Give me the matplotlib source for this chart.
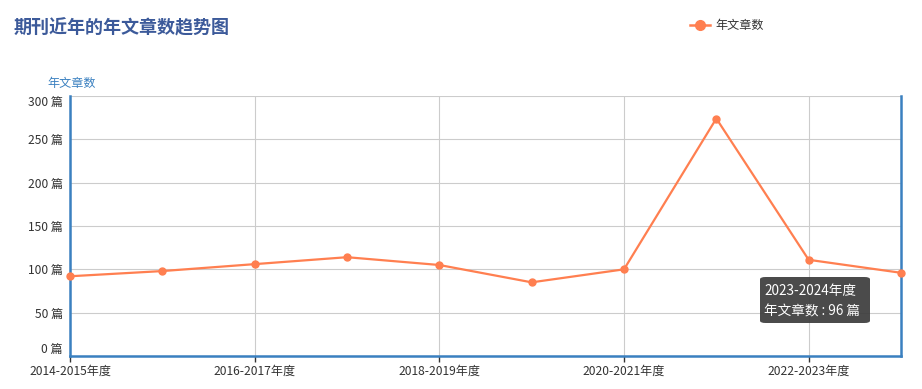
import matplotlib
matplotlib.use("Agg")
import matplotlib.pyplot as plt
from matplotlib.patches import FancyBboxPatch

plt.rcParams["font.family"] = ["Noto Sans CJK SC", "DejaVu Sans"]

# data
years = ["2014-2015年度", "2015-2016年度", "2016-2017年度", "2017-2018年度",
         "2018-2019年度", "2019-2020年度", "2020-2021年度", "2021-2022年度",
         "2022-2023年度", "2023-2024年度"]
counts = [92, 98, 106, 114, 105, 85, 100, 274, 111, 96]
y_ticks = [0, 50, 100, 150, 200, 250, 300]

title = "期刊近年的年文章数趋势图"
series_name = "年文章数"
unit = "篇"

line_color = "#ff7f50"
axis_color = "#3a80c0"
W, H = 922, 389

fig = plt.figure(figsize=(W / 100, H / 100), dpi=100)
ax = fig.add_axes([70 / W, 33 / H, 831 / W, 260 / H])

x = list(range(len(years)))
ax.plot(x, counts, color=line_color, linewidth=1.6, marker="o",
        markersize=5, zorder=3, clip_on=False)
ax.set_xlim(0, len(years) - 1)
ax.set_ylim(0, 300)

ax.set_yticks(y_ticks)
ax.set_yticklabels([f"{v} {unit}" for v in y_ticks])
ax.set_xticks(x[::2])
ax.set_xticklabels(years[::2])
ax.tick_params(axis="y", length=0, pad=5, labelsize=8.7, labelcolor="#333333")
ax.tick_params(axis="x", length=4, width=1, color="#333333", pad=2,
               labelsize=8.7, labelcolor="#333333")
# first/last y labels are pulled inside the axis like in the original
ylabels = ax.get_yticklabels()
ylabels[0].set_va("bottom")
ylabels[-1].set_va("top")

ax.grid(True, color="#cccccc", linewidth=0.8)
ax.set_axisbelow(True)
ax.spines["top"].set_visible(False)
for side in ("left", "bottom", "right"):
    ax.spines[side].set_color(axis_color)
    ax.spines[side].set_linewidth(1.8)

fig.text(14 / W, 1 - 28 / H, title, fontsize=13, fontweight="bold",
         color="#3c5a9a", va="center", ha="left")
fig.text(47 / W, 1 - 83 / H, series_name, fontsize=8.7, color=axis_color,
         va="center", ha="left")

# legend: dash - dot - dash, then the name
lx, ly = 690 / W, 1 - 25 / H
for x0, x1 in ((lx, lx + 6 / W), (lx + 14 / W, lx + 20 / W)):
    fig.lines.append(plt.Line2D([x0, x1], [ly, ly], color=line_color,
                                linewidth=1.8, transform=fig.transFigure))
fig.lines.append(plt.Line2D([lx + 10 / W], [ly], color=line_color, marker="o",
                            markersize=7, transform=fig.transFigure))
fig.text(lx + 25 / W, ly, series_name, fontsize=8.7, color="#333333",
         va="center", ha="left")

# tooltip on the last point
bx, by, bw, bh = 760 / W, 1 - 323 / H, 110 / W, 46 / H
box = FancyBboxPatch((bx, by), bw, bh, boxstyle="round,pad=0,rounding_size=0.006",
                     transform=fig.transFigure, facecolor="#3c3c3c", alpha=0.92,
                     edgecolor="none", zorder=10)
fig.patches.append(box)
fig.text(bx + 4 / W, 1 - 291 / H, years[-1], fontsize=9.8, color="white",
         va="center", ha="left", zorder=11)
fig.text(bx + 4 / W, 1 - 311 / H, f"{series_name} : {counts[-1]} {unit}",
         fontsize=9.8, color="white", va="center", ha="left", zorder=11)

fig.savefig("out.png", dpi=100)
